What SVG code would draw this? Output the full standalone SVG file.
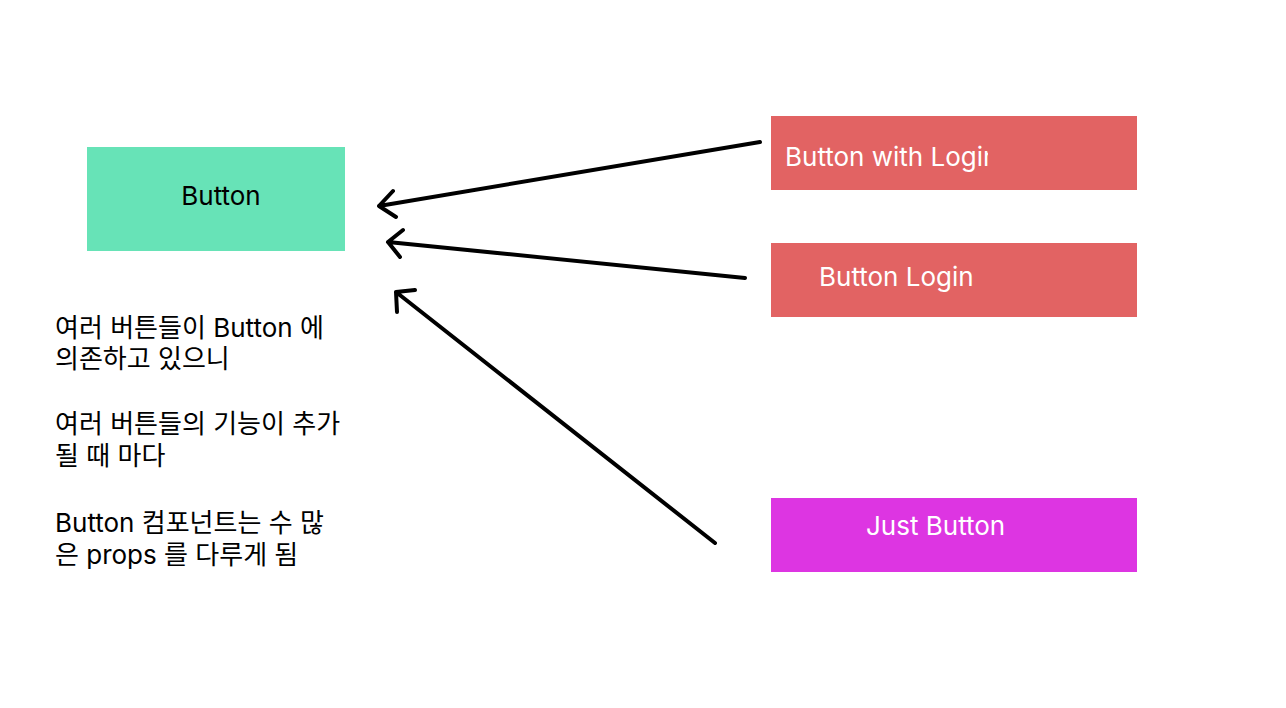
<svg xmlns="http://www.w3.org/2000/svg" width="1286" height="708" viewBox="0 0 1286 708">
<style>
.lbl{font-family:Inter,"Noto Sans","Noto Sans CJK KR",sans-serif;font-size:26px;}
.note{font-family:Inter,"Noto Sans CJK KR",sans-serif;font-size:26px;fill:#000;}
.w{fill:#ffffff;}
.arr{fill:none;stroke:#000;stroke-width:4;stroke-linecap:round;stroke-linejoin:round;}
</style>
<defs>
<clipPath id="clip1"><rect x="771" y="116" width="217" height="74"/></clipPath>
</defs>
<rect width="1286" height="708" fill="#ffffff"/>
<g id="button">
<rect x="87" y="147" width="258" height="104" fill="#67e3b7"/>
<text class="lbl" x="221" y="205" text-anchor="middle" fill="#000">Button</text>
</g>
<g id="button-with-login">
<rect x="771" y="116" width="366" height="74" fill="#e26363"/>
<text class="lbl w" x="785" y="166" clip-path="url(#clip1)">Button with Login</text>
</g>
<g id="button-login">
<rect x="771" y="243" width="366" height="74" fill="#e26363"/>
<text class="lbl w" x="819" y="286">Button Login</text>
</g>
<g id="just-button">
<rect x="771" y="498" width="366" height="74" fill="#dd35e2"/>
<text class="lbl w" x="866" y="535">Just Button</text>
</g>
<g id="note">
<text class="note" x="55" y="337">여러 버튼들이 Button 에</text>
<text class="note" x="55" y="368">의존하고 있으니</text>
<text class="note" x="55" y="433">여러 버튼들의 기능이 추가</text>
<text class="note" x="55" y="465">될 때 마다</text>
<text class="note" x="55" y="532">Button 컴포넌트는 수 많</text>
<text class="note" x="55" y="564">은 props 를 다루게 됨</text>
</g>
<g id="connectors">
<path class="arr" d="M760 142 L379 206 M393 191 L379 206 L396 217"/>
<path class="arr" d="M745 278 L388 242 M403 230 L388 242 L400 257"/>
<path class="arr" d="M715 543 L396 292 M415 290 L396 292 L397 312"/>
</g>
</svg>
